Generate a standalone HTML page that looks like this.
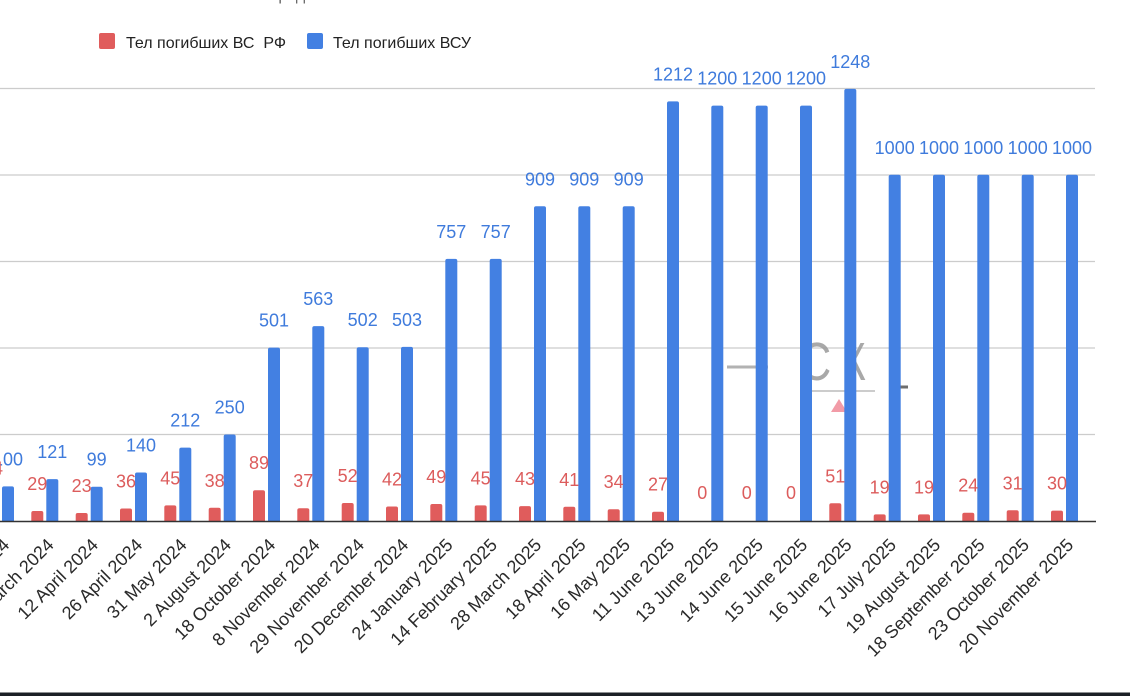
<!DOCTYPE html>
<html><head><meta charset="utf-8"><style>
html,body{margin:0;padding:0;background:#fff;width:1130px;height:696px;overflow:hidden}
svg{display:block}
text{font-family:"Liberation Sans","DejaVu Sans",sans-serif}
.vb{fill:#3f7bdc;font-size:18px;text-anchor:middle}
.vr{fill:#dc5c5c;font-size:18px;text-anchor:middle}
.ax{fill:#2a2a2a;font-size:18px;text-anchor:end}
.b{fill:#4380e2}
.r{fill:#e05c5c}
</style></head><body>
<svg width="1130" height="696" viewBox="0 0 1130 696" xmlns="http://www.w3.org/2000/svg">
<defs><clipPath id="pa"><rect x="0" y="0" width="1100" height="521"/></clipPath></defs>
<rect width="1130" height="696" fill="#fff"/>
<text x="258" y="0" font-size="16" fill="#666">Передача тел погибших</text>
<!-- legend -->
<rect x="99" y="33" width="16" height="16" rx="2" fill="#e05c5c"/>
<text x="126" y="48" font-size="16" fill="#222">Тел погибших ВС&#160; РФ</text>
<rect x="307" y="33" width="16" height="16" rx="2" fill="#4380e2"/>
<text x="333" y="48" font-size="16" fill="#222">Тел погибших ВСУ</text>
<!-- gridlines -->
<g stroke="#cccccc" stroke-width="1.3">
<line x1="0" y1="88.5" x2="1095" y2="88.5"/>
<line x1="0" y1="175" x2="1095" y2="175"/>
<line x1="0" y1="261.5" x2="1095" y2="261.5"/>
<line x1="0" y1="348" x2="1095" y2="348"/>
<line x1="0" y1="434.5" x2="1095" y2="434.5"/>
</g>
<!-- watermark -->
<g opacity="0.85">
<line x1="727" y1="367" x2="768" y2="367" stroke="#a5a5a5" stroke-width="3"/>
<text x="800" y="380" font-size="54" fill="#9a9a9a" transform="translate(800,0) scale(0.8,1) translate(-800,0)">С</text>
<text x="842" y="380" font-size="54" fill="#9a9a9a" transform="translate(842,0) scale(0.75,1) translate(-842,0)">К</text>
<line x1="810" y1="391" x2="875" y2="391" stroke="#b0b0b0" stroke-width="1.5"/>
<line x1="895" y1="387" x2="908" y2="387" stroke="#555" stroke-width="3"/>
<polygon points="831,412 839,399 847,412" fill="#f08a98"/>
</g>
<!-- bars -->
<g clip-path="url(#pa)">
<g class="b">
<rect x="2" y="486.4" width="12" height="40" rx="2"/>
<rect x="46.3" y="479.1" width="12" height="50" rx="2"/>
<rect x="90.7" y="486.7" width="12" height="40" rx="2"/>
<rect x="135" y="472.5" width="12" height="55" rx="2"/>
<rect x="179.3" y="447.6" width="12" height="80" rx="2"/>
<rect x="223.7" y="434.5" width="12" height="90" rx="2"/>
<rect x="268" y="347.6" width="12" height="180" rx="2"/>
<rect x="312.3" y="326.1" width="12" height="200" rx="2"/>
<rect x="356.7" y="347.2" width="12" height="180" rx="2"/>
<rect x="401" y="346.9" width="12" height="180" rx="2"/>
<rect x="445.3" y="258.9" width="12" height="270" rx="2"/>
<rect x="489.7" y="258.9" width="12" height="270" rx="2"/>
<rect x="534" y="206.3" width="12" height="320" rx="2"/>
<rect x="578.3" y="206.3" width="12" height="320" rx="2"/>
<rect x="622.7" y="206.3" width="12" height="320" rx="2"/>
<rect x="667" y="101.4" width="12" height="430" rx="2"/>
<rect x="711.3" y="105.6" width="12" height="420" rx="2"/>
<rect x="755.7" y="105.6" width="12" height="420" rx="2"/>
<rect x="800" y="105.6" width="12" height="420" rx="2"/>
<rect x="844.3" y="88.9" width="12" height="440" rx="2"/>
<rect x="888.7" y="174.8" width="12" height="350" rx="2"/>
<rect x="933" y="174.8" width="12" height="350" rx="2"/>
<rect x="977.3" y="174.8" width="12" height="350" rx="2"/>
<rect x="1021.7" y="174.8" width="12" height="350" rx="2"/>
<rect x="1066" y="174.8" width="12" height="350" rx="2"/>
</g>
<g class="r">
<rect x="31.3" y="511" width="12" height="15" rx="2"/>
<rect x="75.7" y="513" width="12" height="15" rx="2"/>
<rect x="120" y="508.5" width="12" height="18" rx="2"/>
<rect x="164.3" y="505.4" width="12" height="20" rx="2"/>
<rect x="208.7" y="507.8" width="12" height="18" rx="2"/>
<rect x="253" y="490.2" width="12" height="35" rx="2"/>
<rect x="297.3" y="508.2" width="12" height="18" rx="2"/>
<rect x="341.7" y="503" width="12" height="22" rx="2"/>
<rect x="386" y="506.5" width="12" height="20" rx="2"/>
<rect x="430.3" y="504" width="12" height="22" rx="2"/>
<rect x="474.7" y="505.4" width="12" height="20" rx="2"/>
<rect x="519" y="506.1" width="12" height="20" rx="2"/>
<rect x="563.3" y="506.8" width="12" height="20" rx="2"/>
<rect x="607.7" y="509.2" width="12" height="18" rx="2"/>
<rect x="652" y="511.7" width="12" height="15" rx="2"/>
<rect x="829.3" y="503.3" width="12" height="22" rx="2"/>
<rect x="873.7" y="514.4" width="12" height="12" rx="2"/>
<rect x="918" y="514.4" width="12" height="12" rx="2"/>
<rect x="962.3" y="512.7" width="12" height="14" rx="2"/>
<rect x="1006.7" y="510.3" width="12" height="15" rx="2"/>
<rect x="1051" y="510.6" width="12" height="15" rx="2"/>
</g>
</g>
<!-- baseline -->
<line x1="0" y1="521.5" x2="1096" y2="521.5" stroke="#333" stroke-width="1.6"/>
<!-- blue value labels -->
<g class="vb">
<text x="8" y="465.4">100</text>
<text x="52.3" y="458.1">121</text>
<text x="96.7" y="465.7">99</text>
<text x="141" y="451.5">140</text>
<text x="185.3" y="426.6">212</text>
<text x="229.7" y="413.5">250</text>
<text x="274" y="326.6">501</text>
<text x="318.3" y="305.1">563</text>
<text x="362.7" y="326.2">502</text>
<text x="407" y="325.9">503</text>
<text x="451.3" y="237.9">757</text>
<text x="495.7" y="237.9">757</text>
<text x="540" y="185.3">909</text>
<text x="584.3" y="185.3">909</text>
<text x="628.7" y="185.3">909</text>
<text x="673" y="80.4">1212</text>
<text x="717.3" y="84.6">1200</text>
<text x="761.7" y="84.6">1200</text>
<text x="806" y="84.6">1200</text>
<text x="850.3" y="67.9">1248</text>
<text x="894.7" y="153.8">1000</text>
<text x="939" y="153.8">1000</text>
<text x="983.3" y="153.8">1000</text>
<text x="1027.7" y="153.8">1000</text>
<text x="1072" y="153.8">1000</text>
</g>
<!-- red value labels -->
<g class="vr">
<text x="-7" y="474.5">74</text>
<text x="37.3" y="490">29</text>
<text x="81.7" y="492">23</text>
<text x="126" y="487.5">36</text>
<text x="170.3" y="484.4">45</text>
<text x="214.7" y="486.8">38</text>
<text x="259" y="469.2">89</text>
<text x="303.3" y="487.2">37</text>
<text x="347.7" y="482">52</text>
<text x="392" y="485.5">42</text>
<text x="436.3" y="483">49</text>
<text x="480.7" y="484.4">45</text>
<text x="525" y="485.1">43</text>
<text x="569.3" y="485.8">41</text>
<text x="613.7" y="488.2">34</text>
<text x="658" y="490.7">27</text>
<text x="702.3" y="499">0</text>
<text x="746.7" y="499">0</text>
<text x="791" y="499">0</text>
<text x="835.3" y="482.3">51</text>
<text x="879.7" y="493.4">19</text>
<text x="924" y="493.4">19</text>
<text x="968.3" y="491.7">24</text>
<text x="1012.7" y="489.3">31</text>
<text x="1057" y="489.6">30</text>
</g>
<!-- axis labels -->
<g class="ax">
<text transform="translate(10.5,546) rotate(-45)">16 February 2024</text>
<text transform="translate(54.8,546) rotate(-45)">22 March 2024</text>
<text transform="translate(99.2,546) rotate(-45)">12 April 2024</text>
<text transform="translate(143.5,546) rotate(-45)">26 April 2024</text>
<text transform="translate(187.8,546) rotate(-45)">31 May 2024</text>
<text transform="translate(232.2,546) rotate(-45)">2 August 2024</text>
<text transform="translate(276.5,546) rotate(-45)">18 October 2024</text>
<text transform="translate(320.8,546) rotate(-45)">8 November 2024</text>
<text transform="translate(365.2,546) rotate(-45)">29 November 2024</text>
<text transform="translate(409.5,546) rotate(-45)">20 December 2024</text>
<text transform="translate(453.8,546) rotate(-45)">24 January 2025</text>
<text transform="translate(498.2,546) rotate(-45)">14 February 2025</text>
<text transform="translate(542.5,546) rotate(-45)">28 March 2025</text>
<text transform="translate(586.8,546) rotate(-45)">18 April 2025</text>
<text transform="translate(631.2,546) rotate(-45)">16 May 2025</text>
<text transform="translate(675.5,546) rotate(-45)">11 June 2025</text>
<text transform="translate(719.8,546) rotate(-45)">13 June 2025</text>
<text transform="translate(764.2,546) rotate(-45)">14 June 2025</text>
<text transform="translate(808.5,546) rotate(-45)">15 June 2025</text>
<text transform="translate(852.8,546) rotate(-45)">16 June 2025</text>
<text transform="translate(897.2,546) rotate(-45)">17 July 2025</text>
<text transform="translate(941.5,546) rotate(-45)">19 August 2025</text>
<text transform="translate(985.8,546) rotate(-45)">18 September 2025</text>
<text transform="translate(1030.2,546) rotate(-45)">23 October 2025</text>
<text transform="translate(1074.5,546) rotate(-45)">20 November 2025</text>
</g>
<!-- bottom dark strip -->
<rect x="0" y="692.5" width="1130" height="4" fill="#1b2026"/>
</svg>
</body></html>
